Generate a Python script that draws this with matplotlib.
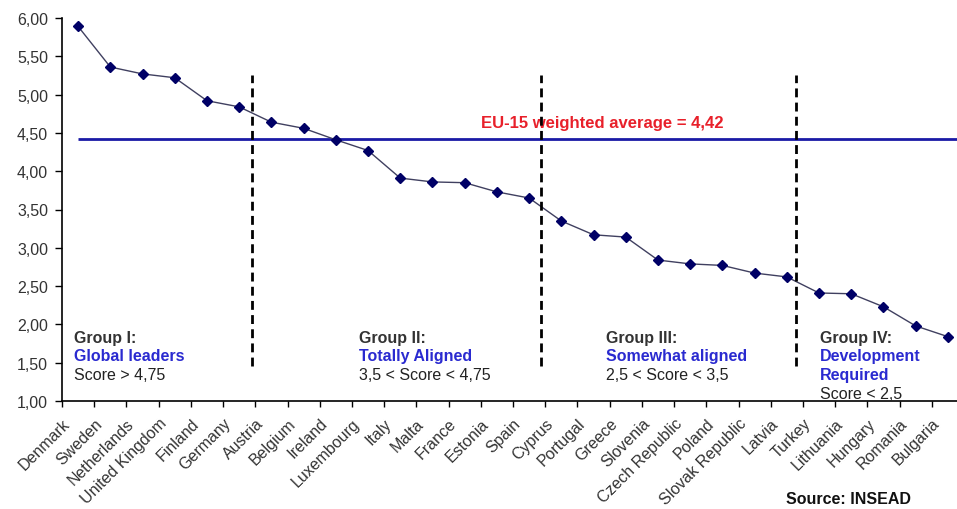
import matplotlib.pyplot as plt
from matplotlib.ticker import FuncFormatter, FixedLocator
from matplotlib.transforms import ScaledTranslation

plt.rcParams['font.family'] = ['Liberation Sans', 'DejaVu Sans']

countries = ["Denmark", "Sweden", "Netherlands", "United Kingdom", "Finland", "Germany",
             "Austria", "Belgium", "Ireland", "Luxembourg", "Italy", "Malta", "France",
             "Estonia", "Spain", "Cyprus", "Portugal", "Greece", "Slovenia",
             "Czech Republic", "Poland", "Slovak Republic", "Latvia", "Turkey",
             "Lithuania", "Hungary", "Romania", "Bulgaria"]
scores = [5.89, 5.36, 5.27, 5.22, 4.92, 4.84, 4.64, 4.56, 4.41, 4.27, 3.91, 3.86, 3.85,
          3.73, 3.65, 3.35, 3.17, 3.14, 2.84, 2.79, 2.77, 2.67, 2.62, 2.41, 2.40, 2.23,
          1.98, 1.84]
eu15_avg = 4.42
group_breaks = [5.4, 14.36, 22.28]

groups = [
    ("Group I:", ["Global leaders"], "Score > 4,75", -0.13),
    ("Group II:", ["Totally Aligned"], "3,5 < Score < 4,75", 8.72),
    ("Group III:", ["Somewhat aligned"], "2,5 < Score < 3,5", 16.39),
    ("Group IV:", ["Development", "Required"], "Score < 2,5", 23.03),
]

fs = 11.5

fig = plt.figure(figsize=(9.57, 5.10), dpi=100)
ax = fig.add_axes([62 / 957, 1 - 402 / 510, 902 / 957, 383 / 510])

x = list(range(len(countries)))
ax.plot(x, scores, color="#404060", lw=1, marker="D", markersize=5.5,
        markerfacecolor="#000066", markeredgecolor="#000066", zorder=3)

ax.hlines(eu15_avg, 0, 27.5, color="#1a1aa6", lw=2, zorder=2)
ax.text(16.26, 4.64, "EU-15 weighted average = 4,42", color="#e8202a",
        fontsize=12, fontweight="bold", ha="center", va="center")

for b in group_breaks:
    ax.vlines(b, 1.46, 5.26, color="black", lw=2, linestyles=(0, (3.2, 1.9)), zorder=4)

line_y = [1.835, 1.60, 1.35, 1.10]
for title, sub, score, gx in groups:
    ax.text(gx, line_y[0], title, color="#333333", fontsize=fs, fontweight="bold",
            va="center", ha="left")
    for i, s in enumerate(sub):
        ax.text(gx, line_y[1 + i], s, color="#2a2ad0", fontsize=fs,
                fontweight="bold", va="center", ha="left")
    ax.text(gx, line_y[1 + len(sub)], score, color="#222222", fontsize=fs,
            va="center", ha="left")

ax.set_xlim(-0.5, 27.5)
ax.set_ylim(1, 6)
ax.set_yticks([1 + 0.5 * i for i in range(11)])
ax.yaxis.set_major_formatter(FuncFormatter(lambda v, p: f"{v:.2f}".replace(".", ",")))
ax.tick_params(axis="y", labelsize=fs, labelcolor="#333333", length=5, width=1, pad=5)

ax.set_xticks(x)
ax.set_xticklabels(countries, rotation=45, ha="right", rotation_mode="anchor",
                   fontsize=fs, color="#333333")
ax.tick_params(axis="x", which="major", length=0, pad=6)
ax.xaxis.set_minor_locator(FixedLocator([i - 0.5 for i in range(29)]))
ax.tick_params(axis="x", which="minor", length=4, width=1)
shift = ScaledTranslation(-0.16, -0.06, fig.dpi_scale_trans)
for lab in ax.get_xticklabels():
    lab.set_transform(lab.get_transform() + shift)

for side in ["top", "right"]:
    ax.spines[side].set_visible(False)
for side in ["left", "bottom"]:
    ax.spines[side].set_linewidth(1.2)

fig.text(849 / 957, 1 - 500 / 510, "Source: INSEAD", fontsize=fs, fontweight="bold",
         ha="center", va="center", color="#111111")

fig.savefig("out.png", dpi=100)
